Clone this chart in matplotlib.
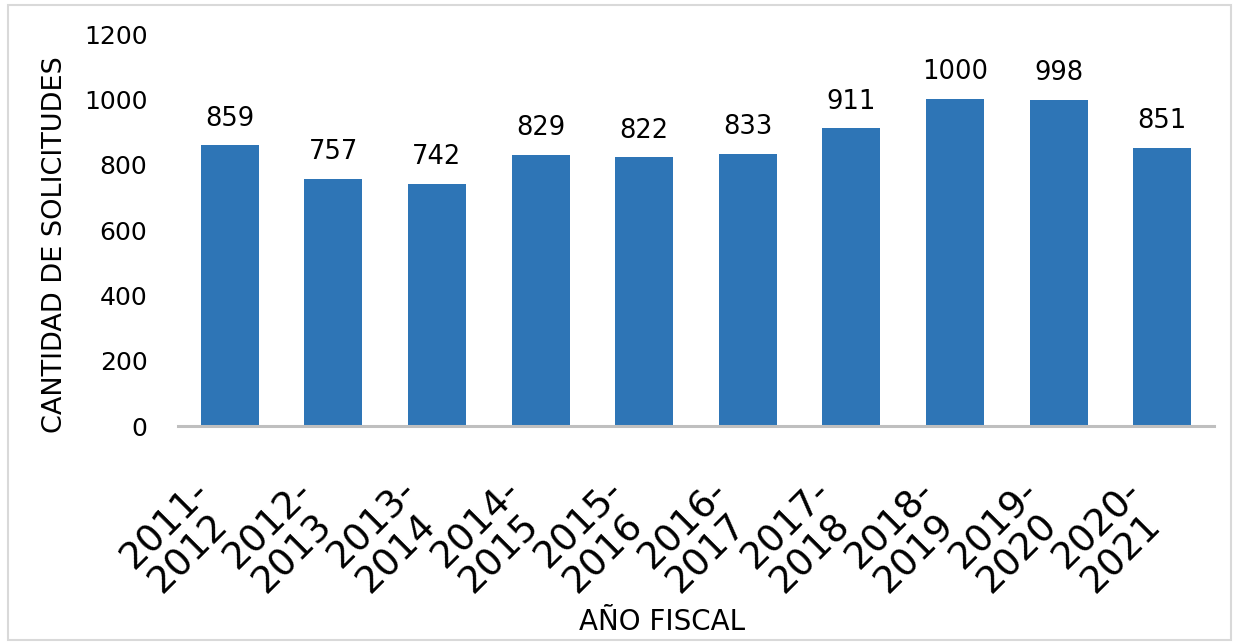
import matplotlib
matplotlib.use("Agg")
import matplotlib.pyplot as plt
from matplotlib.patches import Rectangle

categories = ["2011-\n2012", "2012-\n2013", "2013-\n2014", "2014-\n2015", "2015-\n2016",
              "2016-\n2017", "2017-\n2018", "2018-\n2019", "2019-\n2020", "2020-\n2021"]
values = [859, 757, 742, 829, 822, 833, 911, 1000, 998, 851]
yticks = [0, 200, 400, 600, 800, 1000, 1200]

W, H = 1238, 644
fig = plt.figure(figsize=(W / 100, H / 100), dpi=100)
plt.rcParams['font.family'] = ['DejaVu Sans']

left, right, top, bottom = 178, 1214, 34, 426
ax = fig.add_axes([left / W, 1 - bottom / H, (right - left) / W, (bottom - top) / H])

x = list(range(len(categories)))
bars = ax.bar(x, values, width=0.56, color="#2E75B6", zorder=2)
ax.set_xlim(-0.5, len(categories) - 0.5)
ax.set_ylim(0, 1200)
ax.set_yticks(yticks)
ax.set_yticklabels([str(v) for v in yticks], fontsize=18)
ax.set_xticks(x)
ax.set_xticklabels([""] * len(x))
ax.tick_params(axis="y", length=0, pad=22)
ax.tick_params(axis="x", length=0)
for s in ["top", "right", "left"]:
    ax.spines[s].set_visible(False)
ax.spines["bottom"].set_color("#BFBFBF")
ax.spines["bottom"].set_linewidth(2.2)

# rotated two-line category labels (offsets in pixels: right end of each baseline)
PX = 0.72
line_offsets = [(-19, 67), (0, 101)]
for xi, cat in zip(x, categories):
    for line, (dx, dy) in zip(cat.split("\n"), line_offsets):
        ax.annotate(line, xy=(xi, 0), xycoords=("data", "axes fraction"),
                    xytext=(dx * PX, -dy * PX), textcoords="offset points",
                    rotation=45, rotation_mode="anchor", ha="right", va="baseline",
                    fontsize=27, annotation_clip=False)

for xi, v in zip(x, values):
    ax.annotate(str(v), (xi, v), xytext=(0, 10), textcoords="offset points",
                ha="center", va="bottom", fontsize=18.5)

fig.text(55 / W, 1 - 245 / H, "CANTIDAD DE SOLICITUDES", rotation=90,
         ha="center", va="center", fontsize=19.5)
fig.text(662 / W, 1 - 622 / H, "AÑO FISCAL", ha="center", va="center", fontsize=20)

fig.patches.append(Rectangle((8 / W, 1 - 640 / H), (1231 - 8) / W, (640 - 5) / H,
                             transform=fig.transFigure, fill=False,
                             edgecolor="#D9D9D9", linewidth=1.5))

fig.savefig("out.png", dpi=100)
